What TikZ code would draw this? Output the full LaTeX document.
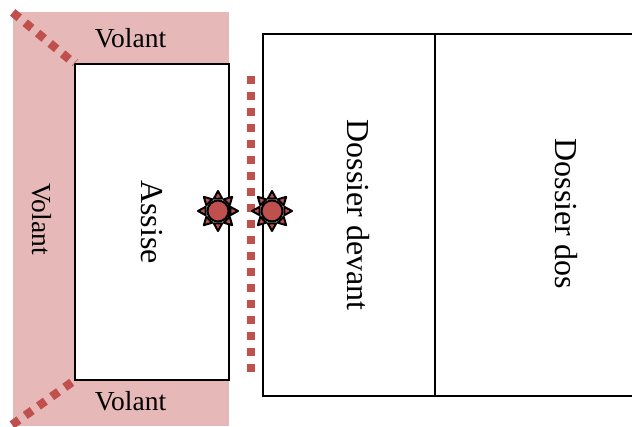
\documentclass[tikz,border=0pt]{standalone}
\usepackage{fontspec}
\setmainfont{Liberation Serif}
\usetikzlibrary{calc}
\definecolor{pinkfill}{HTML}{E6B9B8}
\definecolor{redfill}{HTML}{C0504D}
\tikzset{
  x=1pt,y=-1pt,
  panel/.style={draw=black,line width=2pt,fill=white,minimum width=#1,inner sep=0pt,outer sep=0pt,anchor=north west},
  bigtext/.style={font=\fontsize{32}{36}\selectfont,rotate=-90,inner sep=0pt,anchor=base},
  smalltext/.style={font=\fontsize{27.5}{30}\selectfont,inner sep=0pt,anchor=base},
  dots/.style={draw=redfill,line width=8pt,dash pattern=on 8pt off 8pt},
  diagdots/.style={draw=redfill,line width=8.5pt,dash pattern=on 8.5pt off 7.7pt},
  sunpart/.style={fill=redfill,draw=black,line width=2pt,line join=round},
}
\newcommand{\sunmark}[1]{%
  \foreach \a in {0,45,...,315}{
    \draw[sunpart] ($(#1)+(\a:20)$) -- ($(#1)+(\a+19:13)$) -- ($(#1)+(\a-19:13)$) -- cycle;
  }
  \draw[sunpart] (#1) circle (10.5);
}
\begin{document}
\begin{tikzpicture}
\useasboundingbox (0,0) rectangle (632,426);
\fill[pinkfill] (13,12) rectangle (229,426);
\node[panel=154pt,minimum height=316pt] (assise) at (75,64) {};
\node[panel=172pt,minimum height=362pt] (devant) at (263,34) {};
\node[panel=200pt,minimum height=362pt] (dos) at (435,34) {};
\coordinate (tl) at (12.7,12.4);
\coordinate (tlend) at (assise.north west);
\coordinate (bl) at (11,425.6);
\coordinate (blend) at (assise.south west);
\coordinate (mt) at (251,76);
\coordinate (mb) at (251,372);
\draw[redfill,line width=.5pt] ($(tlend)+(-3,2)$) -- ($(tlend)+(3,-5)$);
\draw[diagdots] (tl) -- (tlend);
\draw[diagdots,dash phase=12.2pt] (blend) -- (bl);
\draw[dots] (mt) -- (mb);
\node[bigtext] (l1) at (141.5,222) {Assise};
\node[bigtext] (l2) at (347.5,215) {Dossier devant};
\node[bigtext] (l3) at (555.5,214) {Dossier dos};
\node[smalltext] (v1) at (130.5,47) {Volant};
\node[smalltext] (v2) at (130.5,410) {Volant};
\node[smalltext,rotate=-90] (v3) at (32,219) {Volant};
\coordinate (s1) at (218,211);
\coordinate (s2) at (272,211);
\sunmark{s1}
\sunmark{s2}
\end{tikzpicture}
\end{document}
